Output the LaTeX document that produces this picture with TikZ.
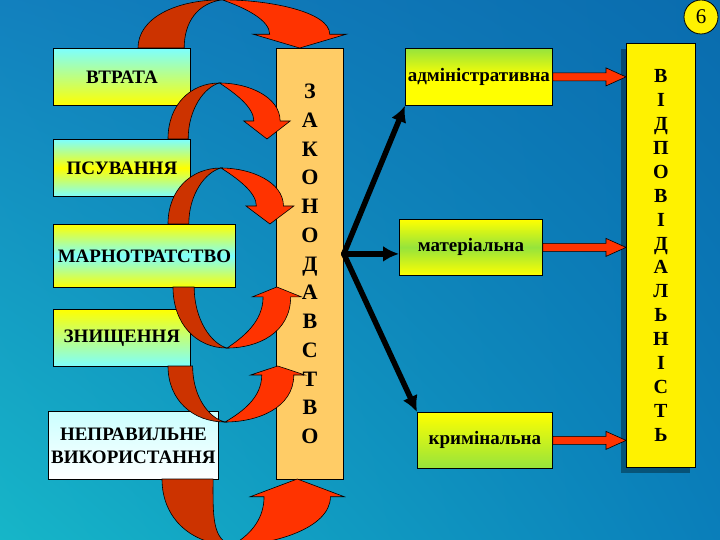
\documentclass[tikz,border=0pt]{standalone}
\usepackage{fontspec}
\setmainfont{Liberation Serif}
\usepackage{tikz}
\usetikzlibrary{arrows.meta}
\usetikzlibrary{calc,shadows,shadings}
\tikzset{>={Latex[width=16pt,length=16pt]}}

\definecolor{bgul}{RGB}{18,128,190}
\definecolor{bgll}{RGB}{22,182,200}
\definecolor{bgur}{RGB}{10,108,174}
\definecolor{bglr}{RGB}{10,126,186}
\definecolor{boxcyan}{RGB}{125,255,255}
\definecolor{boxyellow}{RGB}{255,255,0}
\definecolor{boxgreen}{RGB}{150,228,60}
\definecolor{lawfill}{RGB}{255,204,102}
\definecolor{darkred}{RGB}{204,51,0}
\definecolor{brightred}{RGB}{255,51,0}

\tikzset{
  lbox/.style={draw, line width=.8pt, anchor=north west, inner sep=0pt,
    font=\bfseries\fontsize{19}{23}\selectfont, align=center},
  column/.style={draw, line width=.8pt, anchor=north west, inner sep=0pt, align=center},
  backpart/.style={draw, line width=.6pt, fill=darkred},
  frontpart/.style={draw, line width=.6pt, fill=brightred},
  fork/.style={->, line width=5.5pt, line cap=round}
}

% block arrow from #1 to #2
\newcommand{\pipe}[2]{%
  \filldraw[frontpart] ($(#1)+(0,4)$) -- ($(#2)+(-20,4)$) -- ($(#2)+(-20,9)$) -- (#2)
    -- ($(#2)+(-20,-9)$) -- ($(#2)+(-20,-4)$) -- ($(#1)+(0,-4)$) -- cycle;}

\begin{document}
\begin{tikzpicture}[x=1pt,y=-1pt]
  \useasboundingbox (0,0) rectangle (720,540);
  \shade[upper left=bgul, upper right=bgur, lower left=bgll, lower right=bglr] (0,0) rectangle (720,540);

  % Left boxes
  \node[lbox, minimum width=137pt, minimum height=57pt, top color=boxcyan, bottom color=boxyellow] (loss) at (53,48) {ВТРАТА};
  \node[lbox, minimum width=137pt, minimum height=57pt, top color=boxcyan, bottom color=boxcyan, middle color=boxyellow] (spoil) at (53,139) {ПСУВАННЯ};
  \node[lbox, minimum width=182pt, minimum height=63pt, top color=boxyellow, bottom color=boxyellow, middle color=boxcyan] (waste) at (53,224) {МАРНОТРАТСТВО};
  \node[lbox, minimum width=137pt, minimum height=57pt, top color=boxyellow, bottom color=boxcyan] (destr) at (53,309) {ЗНИЩЕННЯ};
  \node[lbox, minimum width=170pt, minimum height=68pt, top color=boxcyan!40, bottom color=white] (misuse) at (48,411) {НЕПРАВИЛЬНЕ\\ВИКОРИСТАННЯ};

  % Columns
  \node[column, fill=lawfill, minimum width=67pt, minimum height=431pt,
    font=\bfseries\fontsize{22}{28.75}\selectfont] (law) at (276,48)
    {З\\А\\К\\О\\Н\\О\\Д\\А\\В\\С\\Т\\В\\О};
  \node[column, fill=yellow, minimum width=69pt, minimum height=424pt,
    font=\bfseries\fontsize{20}{23.9}\selectfont,
    drop shadow={shadow xshift=-5pt, shadow yshift=-6pt, opacity=.35, fill=black}] (duty) at (626,43)
    {В\\І\\Д\\П\\О\\В\\І\\Д\\А\\Л\\Ь\\Н\\І\\С\\Т\\Ь};

  % Right boxes
  \node[lbox, minimum width=147pt, minimum height=57pt, top color=boxgreen, bottom color=boxyellow, middle color=boxyellow] (admin) at (405,48) {адміністративна};
  \node[lbox, minimum width=143pt, minimum height=56pt, top color=boxyellow, bottom color=boxyellow, middle color=boxgreen] (mat) at (399,219) {матеріальна};
  \node[lbox, minimum width=135pt, minimum height=56pt, top color=boxyellow, bottom color=boxgreen] (krim) at (417,412) {кримінальна};

  % Black arrows
  \coordinate (split) at ($(law.east)+(0,-10)$);
  \draw[fork] (split) -- (admin.south west);
  \draw[fork] (split) -- (split -| mat.west);
  \draw[fork] (split) -- (krim.north west);

  % Red arrows to the right column
  \coordinate (ta) at (admin.east -| duty.west);
  \coordinate (tm) at (mat.east -| duty.west);
  \coordinate (tk) at (krim.east -| duty.west);
  \pipe{admin.east}{ta}
  \pipe{mat.east}{tm}
  \pipe{krim.east}{tk}

  % Curved arrows: origin x/y, xscale, yscale, band width, head height
  \foreach \ox/\oy/\xs/\ys/\w/\hh in {138/48/1.65/0.86/1.4/16, 168/139/1.01/1/1/18, 168/224/1.04/1/1/18,
      173/287/1.06/-1.09/1/9, 168/366/1.12/-1/1.1/9, 162/479/1.38/-1.18/1.85/15} {
    \begin{scope}[shift={(\ox,\oy)}, xscale=\xs, yscale=\ys]
      \filldraw[backpart] (0,0) .. controls (0,-34) and (22,-56) .. (51,-56)
        .. controls (36,-52) and ({20*\w},-30) .. ({20*\w},0) -- cycle;
      \filldraw[frontpart] (51,-56) .. controls (80,-56) and ({98+13*\w},-42) .. ({98+13*\w},-\hh)
        -- ({108+13*\w},-\hh) -- (98,0) -- ({88-13*\w},-\hh) -- ({98-13*\w},-\hh)
        .. controls ({98-13*\w},-32) and (66,-46) .. (51,-56) -- cycle;
    \end{scope}
  }

  \node[circle, draw, line width=.8pt, fill=yellow, minimum size=34pt, inner sep=0pt,
    font=\fontsize{21}{21}\selectfont] (page) at (701,17) {6};
\end{tikzpicture}
\end{document}
